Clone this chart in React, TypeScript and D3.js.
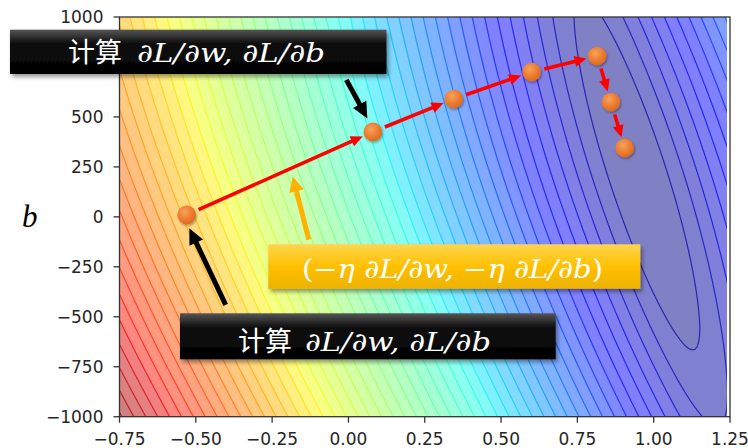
import React, { useMemo } from 'react';
import * as d3 from 'd3';

// ---- axes ----
const W_DOMAIN = [-0.75, 1.25];
const B_DOMAIN = [-1000, 1000];
const W_TICKS = [-0.75, -0.5, -0.25, 0, 0.25, 0.5, 0.75, 1.0, 1.25];
const B_TICKS = [-1000, -750, -500, -250, 0, 250, 500, 750, 1000];

// ---- gradient descent path (w, b) ----
const PATH_W = [-0.53, 0.08, 0.345, 0.6, 0.815, 0.86, 0.905];
const PATH_B = [10, 425, 590, 725, 805, 575, 345];

// ---- loss surface parameters ----
const LOSS_W0 = 0.945;
const LOSS_B0 = 223;
const U_COEF = [291.5, 0.0592];
const V_COEF = [90.35, -0.191];
const LOSS_C = 35;
const LOSS_BV = 3e-4;
const LOSS_DUV = -2.94e-4;
const N_LEVELS = 50;
const W_DATA_MAX = 1.24;

// ---- labels ----
const LABEL_CALC_CN = '计算';
const LABEL_CALC_MATH = '∂L/∂w, ∂L/∂b';
const Y_LABEL = 'b';

function loss(w: number, b: number) {
  const dw = w - LOSS_W0;
  const db = b - LOSS_B0;
  const u = U_COEF[0] * dw + U_COEF[1] * db;
  const v = V_COEF[0] * dw + V_COEF[1] * db;
  return Math.sqrt(u * u + LOSS_C * LOSS_C) + LOSS_BV * v * v + LOSS_DUV * u * v;
}

const JET: Record<string, number[][]> = {
  r: [[0, 0], [0.35, 0], [0.66, 1], [0.89, 1], [1, 0.5]],
  g: [[0, 0], [0.125, 0], [0.375, 1], [0.64, 1], [0.91, 0], [1, 0]],
  b: [[0, 0.5], [0.11, 1], [0.34, 1], [0.65, 0], [1, 0]],
};
function interp(seg: number[][], t: number) {
  for (let i = 1; i < seg.length; i++) {
    if (t <= seg[i][0]) {
      const [x0, y0] = seg[i - 1];
      const [x1, y1] = seg[i];
      return y0 + ((t - x0) / (x1 - x0)) * (y1 - y0);
    }
  }
  return seg[seg.length - 1][1];
}
function jet(t: number, alpha: number) {
  const tt = Math.max(0, Math.min(1, t));
  const c = ['r', 'g', 'b'].map((k) => interp(JET[k], tt));
  const m = c.map((v) => Math.round(255 * (v * alpha + (1 - alpha))));
  return `rgb(${m[0]},${m[1]},${m[2]})`;
}
function jetRaw(t: number) {
  const tt = Math.max(0, Math.min(1, t));
  const c = ['r', 'g', 'b'].map((k) => Math.round(255 * interp(JET[k], tt)));
  return `rgb(${c[0]},${c[1]},${c[2]})`;
}

function Arrow({ x1, y1, x2, y2, color, width, headLen, headW }: any) {
  const dx = x2 - x1;
  const dy = y2 - y1;
  const L = Math.hypot(dx, dy);
  const ux = dx / L;
  const uy = dy / L;
  const bx = x2 - ux * headLen;
  const by = y2 - uy * headLen;
  const px = -uy;
  const py = ux;
  return (
    <g>
      <line x1={x1} y1={y1} x2={bx + ux * 2} y2={by + uy * 2} stroke={color} strokeWidth={width} />
      <polygon
        points={`${x2},${y2} ${bx + (px * headW) / 2},${by + (py * headW) / 2} ${bx - (px * headW) / 2},${by - (py * headW) / 2}`}
        fill={color}
      />
    </g>
  );
}

function CalcLabel({ cx, mathX, mathW, baseline }: any) {
  return (
    <g fill="#fff">
      <text x={cx} y={baseline} fontFamily="'Noto Sans CJK SC'" fontSize={27}>
        {LABEL_CALC_CN}
      </text>
      <text
        x={mathX}
        y={baseline}
        textLength={mathW}
        lengthAdjust="spacingAndGlyphs"
        fontFamily="'DejaVu Serif'"
        fontStyle="italic"
        fontSize={26}
      >
        {LABEL_CALC_MATH}
      </text>
    </g>
  );
}

export default function App() {
  const width = 748;
  const height = 448;
  const x = d3.scaleLinear().domain(W_DOMAIN).range([119.5, 730]);
  const y = d3.scaleLinear().domain(B_DOMAIN).range([416.7, 17]);

  const contour = useMemo(() => {
    const nx = 260;
    const ny = 230;
    const gw0 = -0.8;
    const gw1 = 1.3;
    const gb0 = -1080;
    const gb1 = 1080;
    const dw = (gw1 - gw0) / nx;
    const db = (gb1 - gb0) / ny;
    const values = new Array(nx * ny);
    let zmin = Infinity;
    let zmax = -Infinity;
    for (let j = 0; j < ny; j++) {
      for (let i = 0; i < nx; i++) {
        const w = gw0 + (i + 0.5) * dw;
        const b = gb0 + (j + 0.5) * db;
        const z = loss(w, b);
        values[j * nx + i] = z;
        if (w >= W_DOMAIN[0] && w <= W_DATA_MAX && b >= B_DOMAIN[0] && b <= B_DOMAIN[1]) {
          zmin = Math.min(zmin, z);
          zmax = Math.max(zmax, z);
        }
      }
    }
    const delta = (zmax - zmin) / N_LEVELS;
    const levels = d3.range(N_LEVELS + 2).map((k) => zmin + (k - 0.05) * delta);
    const lo = levels[0];
    const hi = levels[levels.length - 1];
    const bandColor = (k: number) => {
      const mid = (levels[k] + levels[k + 1]) / 2;
      return (mid - lo) / (hi - lo);
    };
    const gen = d3.contours().size([nx, ny]).thresholds(levels.slice(1, N_LEVELS + 1));
    const polys = gen(values);
    const proj = d3.geoTransform({
      point(this: any, gx: number, gy: number) {
        this.stream.point(x(gw0 + gx * dw), y(gb0 + gy * db));
      },
    });
    const path = d3.geoPath(proj);
    return {
      base: jet(bandColor(0), 0.5),
      items: polys.map((p, idx) => ({
        d: path(p as any) || '',
        fill: jet(bandColor(idx + 1), 0.5),
        stroke: jetRaw(bandColor(idx + 1)),
      })),
    };
  }, []);

  const pts = PATH_W.map((w, i) => ({ px: x(w), py: y(PATH_B[i]) }));

  const redArrows = pts.slice(0, -1).map((p, i) => {
    const q = pts[i + 1];
    const dx = q.px - p.px;
    const dy = q.py - p.py;
    const L = Math.hypot(dx, dy);
    const ux = dx / L;
    const uy = dy / L;
    return { x1: p.px + ux * 13, y1: p.py + uy * 13, x2: q.px - ux * 11, y2: q.py - uy * 11 };
  });

  const p1 = pts[0];
  const p2 = pts[1];
  const mid = { px: p1.px + (p2.px - p1.px) * 0.57, py: p1.py + (p2.py - p1.py) * 0.57 };

  const plotL = x(W_DOMAIN[0]);
  const plotR = x(W_DOMAIN[1]);
  const plotT = y(B_DOMAIN[1]);
  const plotB = y(B_DOMAIN[0]);
  const fillR = x(W_DATA_MAX);

  const fmtW = (v: number) => d3.format('.2f')(v).replace('-', '−');
  const fmtB = (v: number) => String(v).replace('-', '−');

  return (
    <div style={{ position: 'absolute', left: 0, top: 0 }}>
      <svg width={width} height={height} style={{ display: 'block', background: '#fff' }}>
        <defs>
          <clipPath id="plotclip">
            <rect x={plotL} y={plotT} width={fillR - plotL} height={plotB - plotT} />
          </clipPath>
          <radialGradient id="dot" cx="40%" cy="35%" r="70%">
            <stop offset="0%" stopColor="#F6A35C" />
            <stop offset="55%" stopColor="#ED7D31" />
            <stop offset="100%" stopColor="#D66A1F" />
          </radialGradient>
          <linearGradient id="blackbox" x1="0" y1="0" x2="0" y2="1">
            <stop offset="0%" stopColor="#555" />
            <stop offset="30%" stopColor="#111" />
            <stop offset="100%" stopColor="#000" />
          </linearGradient>
          <linearGradient id="goldbox" x1="0" y1="0" x2="0" y2="1">
            <stop offset="0%" stopColor="#FFD54F" />
            <stop offset="50%" stopColor="#FFC000" />
            <stop offset="100%" stopColor="#EDB100" />
          </linearGradient>
          <filter id="shadow" x="-20%" y="-20%" width="140%" height="160%">
            <feDropShadow dx="2" dy="3" stdDeviation="2" floodColor="#000" floodOpacity="0.4" />
          </filter>
          <filter id="dotshadow" x="-50%" y="-50%" width="200%" height="200%">
            <feDropShadow dx="1" dy="1.5" stdDeviation="1.2" floodColor="#000" floodOpacity="0.35" />
          </filter>
        </defs>

        <g clipPath="url(#plotclip)">
          <rect x={plotL} y={plotT} width={fillR - plotL} height={plotB - plotT} fill={contour.base} />
          {contour.items.map((c, i) => (
            <path key={'f' + i} d={c.d} fill={c.fill} stroke="none" />
          ))}
          {contour.items.map((c, i) => (
            <path key={'s' + i} d={c.d} fill="none" stroke={c.stroke} strokeOpacity={0.7} strokeWidth={1.2} />
          ))}
        </g>

        {/* frame */}
        <rect x={plotL} y={plotT} width={plotR - plotL} height={plotB - plotT} fill="none" stroke="#333" strokeWidth={1.3} />

        {/* x ticks */}
        {W_TICKS.map((t) => (
          <g key={'xt' + t}>
            <line x1={x(t)} x2={x(t)} y1={plotB} y2={plotB + 6} stroke="#333" strokeWidth={1.3} />
            <text x={x(t)} y={444.5} textAnchor="middle" fontFamily="'DejaVu Sans'" fontSize={17} fill="#262626">
              {fmtW(t)}
            </text>
          </g>
        ))}
        {/* y ticks */}
        {B_TICKS.map((t) => (
          <g key={'yt' + t}>
            <line x1={plotL - 6} x2={plotL} y1={y(t)} y2={y(t)} stroke="#333" strokeWidth={1.3} />
            <text x={103.5} y={y(t) + 6.2} textAnchor="end" fontFamily="'DejaVu Sans'" fontSize={17} fill="#262626">
              {fmtB(t)}
            </text>
          </g>
        ))}

        <text x={22} y={226.5} fontFamily="'Liberation Serif'" fontStyle="italic" fontSize={31} fill="#000">
          {Y_LABEL}
        </text>

        {/* red gradient-step arrows */}
        {redArrows.map((a, i) => (
          <Arrow key={'ra' + i} {...a} color="#FF0000" width={3.6} headLen={12} headW={11} />
        ))}

        {/* points */}
        {pts.map((p, i) => (
          <circle key={'p' + i} cx={p.px} cy={p.py} r={9.3} fill="url(#dot)" filter="url(#dotshadow)" />
        ))}

        {/* annotation arrows */}
        <Arrow x1={p2.px - 26.5} y1={p2.py - 52} x2={p2.px - 5.5} y2={p2.py - 13.5} color="#000" width={5} headLen={16} headW={15} />
        <Arrow x1={p1.px + 39} y1={p1.py + 90} x2={p1.px + 2.7} y2={p1.py + 13.3} color="#000" width={5} headLen={16} headW={15} />
        <Arrow x1={mid.px + 16} y1={mid.py + 72} x2={mid.px} y2={mid.py + 9} color="#FFB000" width={5} headLen={15} headW={15} />

        {/* top black box */}
        <rect x={10} y={29.7} width={376.5} height={44.3} fill="url(#blackbox)" filter="url(#shadow)" />
        <CalcLabel cx={68} mathX={137} mathW={188} baseline={62} />

        {/* gold box */}
        <rect x={268.3} y={244.3} width={372} height={44.5} fill="url(#goldbox)" filter="url(#shadow)" />
        <text
          x={302}
          y={278}
          textLength={301}
          lengthAdjust="spacingAndGlyphs"
          fill="#fff"
          fontFamily="'DejaVu Serif'"
          fontSize={26}
        >
          <tspan fontStyle="normal">(−</tspan>
          <tspan fontStyle="italic">η ∂L/∂w, </tspan>
          <tspan fontStyle="normal">−</tspan>
          <tspan fontStyle="italic">η ∂L/∂b</tspan>
          <tspan fontStyle="normal">)</tspan>
        </text>

        {/* bottom black box */}
        <rect x={180} y={313.3} width={375.7} height={46} fill="url(#blackbox)" filter="url(#shadow)" />
        <CalcLabel cx={238} mathX={305} mathW={186} baseline={351} />
      </svg>
    </div>
  );
}
